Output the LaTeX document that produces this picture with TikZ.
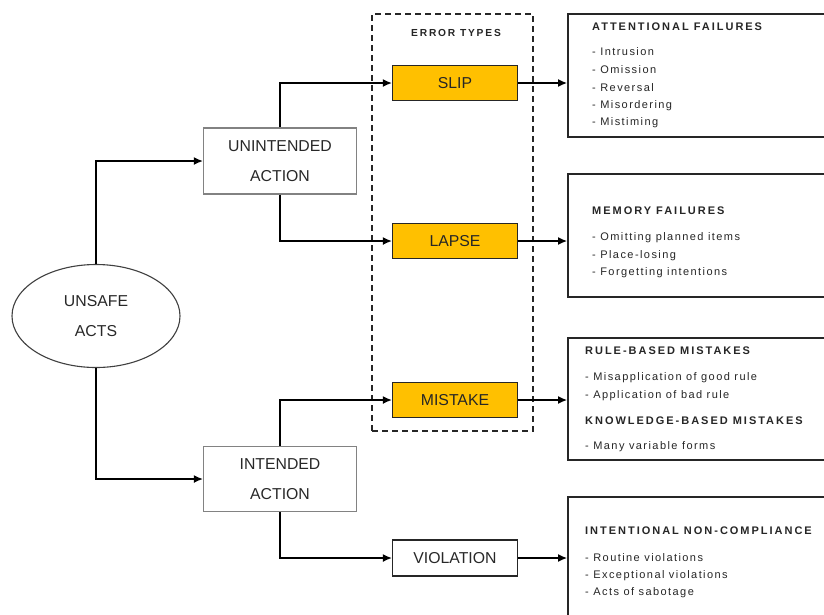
\documentclass[tikz,border=0pt]{standalone}
\usepackage{fontspec}
\setmainfont{Liberation Sans}
\newfontfamily\hdfont[LetterSpace=18]{Liberation Sans}
\newfontfamily\itmfont[LetterSpace=13]{Liberation Sans}
\usetikzlibrary{arrows.meta,shapes.geometric}
\definecolor{gold}{RGB}{255,192,0}
\definecolor{textgray}{RGB}{40,40,40}
\definecolor{boxgray}{RGB}{130,130,130}
\tikzset{
  conn/.style={line width=1.3pt, -{Latex[length=9pt,width=8pt]}},
  mainlbl/.style={font=\fontsize{15.8}{30}\selectfont, text=textgray, align=center},
  graybox/.style={mainlbl, draw=boxgray, line width=1.3pt, minimum width=153, minimum height=66, inner sep=0pt},
  errbox/.style={font=\fontsize{15.8}{18}\selectfont, text=black!85, fill=gold, draw=black!85, line width=1.3pt, minimum width=125, minimum height=35, inner sep=0pt},
  plainbox/.style={font=\fontsize{15.8}{18}\selectfont, text=textgray, draw=black!85, line width=1.3pt, minimum width=125, minimum height=36, inner sep=0pt},
  infobox/.style={draw=black!85, line width=1.5pt, anchor=north west, minimum width=263, inner sep=0pt},
  hd/.style={font=\hdfont\bfseries\fontsize{11}{12}\selectfont, text=black!85, anchor=mid west, inner sep=0pt},
  itm/.style={font=\itmfont\fontsize{11}{12}\selectfont, text=black!85, anchor=mid west, inner sep=0pt}
}
\begin{document}
\begin{tikzpicture}[x=1pt,y=-1pt]
\useasboundingbox (0,0) rectangle (824,614);
\clip (0,0) rectangle (824,614);
\fill[white] (0,0) rectangle (824,614);

% dashed group
\node[draw=black!85, dash pattern=on 6pt off 4pt, line width=1.2pt, minimum width=161, minimum height=417, inner sep=0pt] (grp) at (452.5,222.5) {};
\node[hd, anchor=center, font=\hdfont\bfseries\fontsize{10.2}{12}\selectfont] (grplbl) at (456,33) {ERROR TYPES};

% main nodes
\node[ellipse, draw=black!75, line width=1.1pt, minimum width=168, minimum height=103, inner sep=0pt, mainlbl] (ell) at (96,316) {UNSAFE\\ACTS};
\node[graybox] (unint) at (280,161) {UNINTENDED\\ACTION};
\node[graybox, minimum height=65] (int) at (280,479) {INTENDED\\ACTION};

\node[errbox] (slip) at (455,83) {SLIP};
\node[errbox] (lapse) at (455,241) {LAPSE};
\node[errbox] (mist) at (455,400) {MISTAKE};
\node[plainbox] (viol) at (455,558) {VIOLATION};

% info boxes
\node[infobox, minimum height=123] (att) at (567,13) {};
\node[infobox, minimum height=123] (mem) at (567,173) {};
\node[infobox, minimum height=122] (rule) at (567,337) {};
\node[infobox, minimum height=140] (intent) at (567,496) {};

\node[hd] (atth) at (592,28) {ATTENTIONAL FAILURES};
\node[itm] (a1) at (592,53) {- Intrusion};
\node[itm] (a2) at (592,71) {- Omission};
\node[itm] (a3) at (592,89) {- Reversal};
\node[itm] (a4) at (592,106) {- Misordering};
\node[itm] (a5) at (592,123) {- Mistiming};

\node[hd] (memh) at (592,212) {MEMORY FAILURES};
\node[itm] (m1) at (592,238) {- Omitting planned items};
\node[itm] (m2) at (592,256) {- Place-losing};
\node[itm] (m3) at (592,273) {- Forgetting intentions};

\node[hd] (ruleh) at (585,352) {RULE-BASED MISTAKES};
\node[itm] (r1) at (585,378) {- Misapplication of good rule};
\node[itm] (r2) at (585,396) {- Application of bad rule};
\node[hd] (kh) at (585,422) {KNOWLEDGE-BASED MISTAKES};
\node[itm] (k1) at (585,447) {- Many variable forms};

\node[hd] (inth) at (585,532) {INTENTIONAL NON-COMPLIANCE};
\node[itm] (i1) at (585,559) {- Routine violations};
\node[itm] (i2) at (585,576) {- Exceptional violations};
\node[itm] (i3) at (585,593) {- Acts of sabotage};

% connectors
\draw[conn] (ell.north) |- (unint.west);
\draw[conn] (ell.south) |- (int.west);
\draw[conn] (unint.north) |- (slip.west);
\draw[conn] (unint.south) |- (lapse.west);
\draw[conn] (int.north) |- (mist.west);
\draw[conn] (int.south) |- (viol.west);
\draw[conn] (slip.east) -- (slip.east -| att.west);
\draw[conn] (lapse.east) -- (lapse.east -| mem.west);
\draw[conn] (mist.east) -- (mist.east -| rule.west);
\draw[conn] (viol.east) -- (viol.east -| intent.west);
\end{tikzpicture}
\end{document}
